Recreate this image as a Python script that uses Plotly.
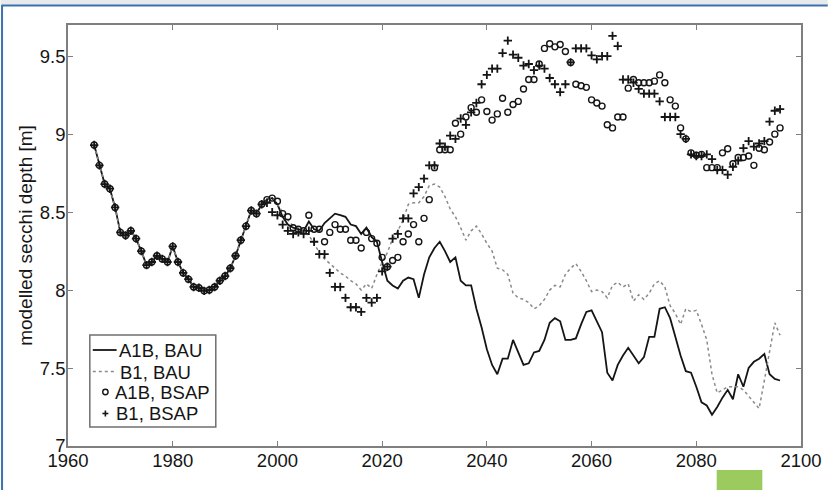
import plotly.graph_objects as go

# ---------------- data ----------------
hist_years = list(range(1965, 1998))
hist_depth = [8.93, 8.80, 8.68, 8.65, 8.53, 8.37, 8.35, 8.38, 8.33, 8.25,
              8.16, 8.18, 8.22, 8.20, 8.18, 8.28, 8.18, 8.11, 8.07, 8.02,
              8.015, 7.995, 8.00, 8.02, 8.06, 8.09, 8.14, 8.22, 8.32, 8.41,
              8.51, 8.49, 8.55]

scen_years = list(range(1998, 2097))

a1b_bau = [8.58, 8.59,
           8.55, 8.47, 8.42, 8.40, 8.39, 8.38, 8.44, 8.39, 8.38, 8.43,
           8.46, 8.49, 8.48, 8.47, 8.42, 8.41, 8.36, 8.40, 8.34, 8.31,
           8.18, 8.06, 8.03, 8.01, 8.06, 8.08, 8.07, 7.95, 8.10, 8.21,
           8.27, 8.31, 8.25, 8.18, 8.21, 8.06, 8.03, 8.03, 7.88, 7.76,
           7.62, 7.52, 7.46, 7.56, 7.56, 7.68, 7.60, 7.52, 7.53, 7.60,
           7.61, 7.68, 7.79, 7.82, 7.80, 7.68, 7.68, 7.69, 7.78, 7.86,
           7.87, 7.80, 7.73, 7.47, 7.42, 7.52, 7.58, 7.63, 7.58, 7.53,
           7.57, 7.70, 7.70, 7.88, 7.89, 7.82, 7.70, 7.58, 7.48, 7.47,
           7.38, 7.28, 7.26, 7.20, 7.25, 7.31, 7.36, 7.30, 7.46, 7.38,
           7.50, 7.54, 7.56, 7.59, 7.46, 7.43, 7.42]

b1_bau = [8.58, 8.59,
          8.55, 8.50, 8.45, 8.41, 8.40, 8.38, 8.35, 8.30, 8.24, 8.20,
          8.17, 8.14, 8.11, 8.09, 8.06, 8.04, 8.00, 8.04, 8.01, 8.10,
          8.18, 8.24, 8.33, 8.38, 8.45, 8.55, 8.56, 8.56, 8.60, 8.67,
          8.68, 8.66, 8.60, 8.52, 8.47, 8.40, 8.32, 8.38, 8.41, 8.36,
          8.30, 8.25, 8.14, 8.13, 8.10, 7.98, 7.95, 7.94, 7.92, 7.88,
          7.90, 7.94, 8.00, 8.03, 8.02, 8.10, 8.14, 8.17, 8.12, 8.06,
          7.99, 8.00, 7.99, 7.95, 8.03, 8.05, 8.02, 8.04, 7.93, 7.97,
          7.94, 7.98, 8.04, 8.06, 8.02, 7.90, 7.85, 7.78, 7.88, 7.86,
          7.87, 7.78, 7.68, 7.46, 7.34, 7.36, 7.38, 7.38, 7.38, 7.36,
          7.32, 7.28, 7.24, 7.42, 7.60, 7.79, 7.71]

a1b_bsap = [8.58, 8.59,
            8.57, 8.49, 8.47, 8.40, 8.39, 8.38, 8.48, 8.39, 8.39, 8.31,
            8.37, 8.42, 8.39, 8.39, 8.32, 8.32, 8.27, 8.37, 8.33, 8.30,
            8.21, 8.15, 8.19, 8.21, 8.31, 8.36, 8.42, 8.31, 8.46, 8.58,
            8.785, 8.90, 8.90, 8.90, 9.07, 9.00, 9.11, 9.17, 9.14, 9.22,
            9.145, 9.09, 9.13, 9.23, 9.14, 9.19, 9.21, 9.29, 9.35, 9.35,
            9.45, 9.55, 9.58, 9.56, 9.575, 9.53, 9.46, 9.32, 9.31, 9.30,
            9.22, 9.20, 9.18, 9.06, 9.04, 9.11, 9.11, 9.295, 9.35, 9.33,
            9.33, 9.33, 9.34, 9.38, 9.33, 9.22, 9.18, 9.04, 8.97, 8.88,
            8.865, 8.87, 8.785, 8.785, 8.785, 8.88, 8.906, 8.81, 8.85, 8.85,
            8.86, 8.80, 8.91, 8.90, 8.95, 9.00, 9.04]

b1_bsap = [8.56, 8.50,
           8.48, 8.42, 8.38, 8.36, 8.37, 8.36, 8.38, 8.31, 8.23, 8.23,
           8.11, 8.02, 8.02, 7.95, 7.89, 7.89, 7.86, 7.95, 7.92, 7.95,
           8.12, 8.15, 8.33, 8.36, 8.46, 8.46, 8.62, 8.66, 8.715, 8.80,
           8.80, 8.94, 8.92, 8.99, 8.97, 9.10, 9.06, 9.14, 9.20, 9.32,
           9.38, 9.42, 9.42, 9.52, 9.60, 9.51, 9.49, 9.44, 9.45, 9.41,
           9.44, 9.42, 9.36, 9.32, 9.27, 9.32, 9.46, 9.55, 9.55, 9.55,
           9.505, 9.48, 9.50, 9.50, 9.63, 9.565, 9.35, 9.35, 9.33, 9.29,
           9.26, 9.26, 9.26, 9.21, 9.11, 9.11, 9.11, 9.00, 8.97, 8.87,
           8.86, 8.86, 8.87, 8.84, 8.77, 8.77, 8.74, 8.79, 8.83, 8.91,
           8.955, 8.92, 8.94, 8.955, 9.08, 9.15, 9.16]

series_names = ["A1B, BAU", "B1, BAU", "A1B, BSAP", "B1, BSAP"]
x_ticks = [1960, 1980, 2000, 2020, 2040, 2060, 2080, 2100]
y_ticks = [7, 7.5, 8, 8.5, 9, 9.5]
y_tick_text = ["7", "7.5", "8", "8.5", "9", "9.5"]

# ---------------- figure ----------------
yrs = hist_years + scen_years
FONT = "Liberation Sans, Arial, sans-serif"
INK = "#151515"

fig = go.Figure()
fig.add_trace(go.Scatter(x=yrs, y=hist_depth + a1b_bau, mode="lines",
                         name=series_names[0],
                         line=dict(color=INK, width=1.8)))
fig.add_trace(go.Scatter(x=yrs, y=hist_depth + b1_bau, mode="lines",
                         name=series_names[1],
                         line=dict(color="#8a8a8a", width=1.5, dash="dot")))
fig.add_trace(go.Scatter(x=yrs, y=hist_depth + a1b_bsap, mode="markers",
                         name=series_names[2],
                         marker=dict(symbol="circle-open", size=6,
                                     color=INK, line=dict(width=1.4))))
fig.add_trace(go.Scatter(x=yrs, y=hist_depth + b1_bsap, mode="markers",
                         name=series_names[3],
                         marker=dict(symbol="cross-thin-open", size=6,
                                     color=INK, line=dict(width=1.8))))

axis_common = dict(showline=True, linecolor="#7f7f7f", linewidth=1.5,
                   mirror="ticks", ticks="inside", ticklen=5,
                   tickcolor="#7f7f7f", tickwidth=1.3, showgrid=False,
                   zeroline=False, ticklabelstandoff=-3,
                   tickfont=dict(family=FONT, size=18.5, color=INK))

fig.update_xaxes(range=[1960, 2100], tickvals=x_ticks, **axis_common)
fig.update_yaxes(range=[7, 9.7], tickvals=y_ticks, ticktext=y_tick_text,
                 title=dict(text="modelled secchi depth [m]",
                            font=dict(family=FONT, size=19, color=INK),
                            standoff=2),
                 **axis_common)

# plot area: x 68..807 px, y 25..446 px
W, H = 834, 490
L, R, T, B = 68, 27, 25, 44
pw, ph = W - L - R, H - T - B


def px(x):
    return (x - L) / pw


def py(y):
    return (H - B - y) / ph


shapes = [
    # page frame decoration
    dict(type="rect", xref="paper", yref="paper", x0=px(0), x1=px(W),
         y0=py(0), y1=py(5), fillcolor="#e8e9ea", line_width=0, layer="below"),
    dict(type="line", xref="paper", yref="paper", x0=px(1), x1=px(W),
         y0=py(5.5), y1=py(5.5), line=dict(color="#3a72b0", width=2)),
    dict(type="line", xref="paper", yref="paper", x0=px(1.5), x1=px(1.5),
         y0=py(5), y1=py(H), line=dict(color="#3a72b0", width=2)),
    dict(type="rect", xref="paper", yref="paper", x0=px(722), x1=px(768),
         y0=py(470), y1=py(490), fillcolor="#9bcb5f", line_width=0),
    # legend box
    dict(type="rect", xref="paper", yref="paper", x0=px(90), x1=px(217),
         y0=py(335), y1=py(427), fillcolor="white",
         line=dict(color="#6f6f6f", width=1.5)),
    # legend samples
    dict(type="line", xref="paper", yref="paper", x0=px(93), x1=px(117),
         y0=py(350), y1=py(350), line=dict(color=INK, width=1.8)),
    dict(type="line", xref="paper", yref="paper", x0=px(93), x1=px(117),
         y0=py(371.5), y1=py(371.5),
         line=dict(color="#8a8a8a", width=1.3, dash="dot")),
    dict(type="circle", xref="paper", yref="paper", x0=px(103), x1=px(108.4),
         y0=py(389.3), y1=py(394.7), line=dict(color=INK, width=1.4)),
    dict(type="line", xref="paper", yref="paper", x0=px(102.7), x1=px(108.7),
         y0=py(413.5), y1=py(413.5), line=dict(color=INK, width=1.6)),
    dict(type="line", xref="paper", yref="paper", x0=px(105.7), x1=px(105.7),
         y0=py(410.5), y1=py(416.5), line=dict(color=INK, width=1.6)),
]

legend_text_x = [117.5, 118.5, 113.5, 114.5]
legend_text_y = [350, 372, 392.5, 413.5]
annotations = [
    dict(text=name, xref="paper", yref="paper", x=px(tx), y=py(ty),
         xanchor="left", yanchor="middle", showarrow=False,
         font=dict(family=FONT, size=18.5, color=INK))
    for name, tx, ty in zip(series_names, legend_text_x, legend_text_y)
]

fig.update_layout(
    width=W, height=H,
    margin=dict(l=L, r=R, t=T, b=B),
    paper_bgcolor="white", plot_bgcolor="white",
    font=dict(family=FONT, size=18, color=INK),
    showlegend=False,
    shapes=shapes,
    annotations=annotations,
)

fig.write_html("out.html")
